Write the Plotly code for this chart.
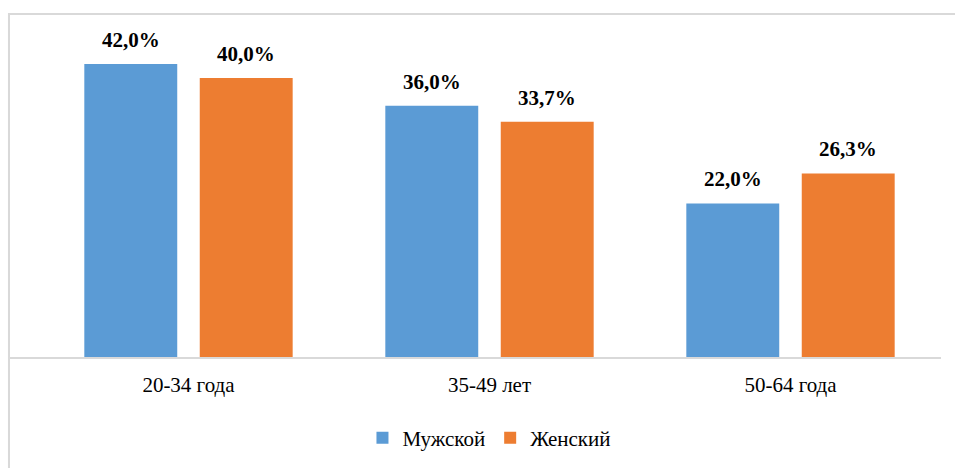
import plotly.graph_objects as go

categories = ["20-34 года", "35-49 лет", "50-64 года"]
male = [42.0, 36.0, 22.0]
female = [40.0, 33.7, 26.3]
series_names = ["Мужской", "Женский"]
colors = ["#5B9BD5", "#ED7D31"]

FONT = "Times New Roman, Liberation Serif, DejaVu Serif, serif"

fig = go.Figure()
for name, vals, col in zip(series_names, [male, female], colors):
    fig.add_trace(go.Bar(
        x=categories, y=vals, name=name,
        marker=dict(color=col, line=dict(width=0)),
    ))

# value labels
annotations = []
for vals, shift in [(male, -57.75), (female, 57.75)]:
    for c, v in zip(categories, vals):
        annotations.append(dict(
            x=c, y=v, xref="x", yref="y", xshift=shift, yshift=10,
            text="<b>" + f"{v:.1f}".replace(".", ",") + "%</b>",
            showarrow=False, yanchor="bottom",
            font=dict(family=FONT, size=21, color="#000000"),
        ))

fig.update_layout(
    width=955, height=468,
    margin=dict(l=10, r=14, t=43, b=111),
    paper_bgcolor="white", plot_bgcolor="white",
    barmode="group", bargap=0.233, bargroupgap=0.195,
    font=dict(family=FONT, size=19, color="#000000"),
    showlegend=True,
    legend=dict(orientation="h", x=0.515, xanchor="center", y=-0.258, yanchor="middle",
                font=dict(family=FONT, size=21), itemwidth=30, traceorder="normal"),
    annotations=annotations,
    shapes=[dict(type="rect", xref="paper", yref="paper",
                 x0=-0.0011, x1=1.2, y0=-0.6, y1=1.092,
                 line=dict(color="#D9D9D9", width=2), layer="below")],
)
fig.update_xaxes(range=[-0.593, 2.5], showline=True, linecolor="#D9D9D9", linewidth=2,
                 ticks="", showgrid=False, tickfont=dict(family=FONT, size=21), ticklabelstandoff=8)
fig.update_yaxes(range=[0, 45], visible=False, showgrid=False)

fig.write_html("out.html", config={"displayModeBar": False},
               post_script="document.body.style.margin='0';")
